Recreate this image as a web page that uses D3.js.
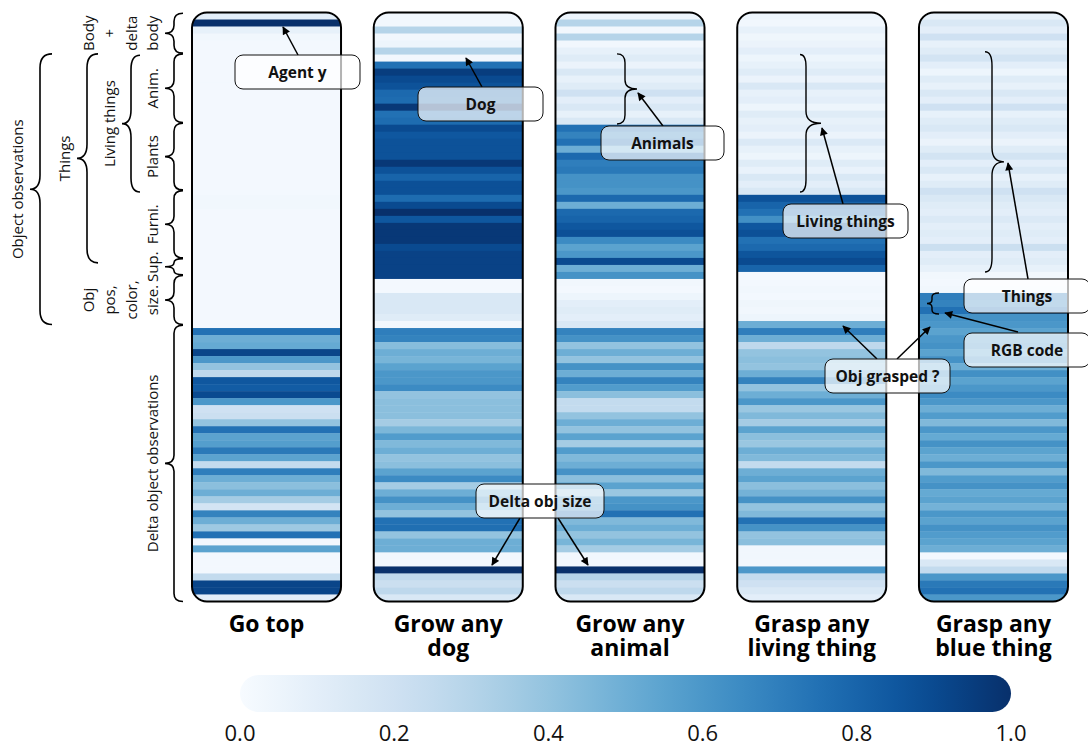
<!DOCTYPE html>
<html>
<head>
<meta charset="utf-8">
<script src="https://cdn.jsdelivr.net/npm/d3@7"></script>
<style>
body { margin: 0; background: #fff; }
svg { font-family: "Open Sans", "Noto Sans", sans-serif; }
</style>
</head>
<body>
<div id="chart"></div>
<script>
// one value per observation dimension (84 rows), per task
var goTop = [0.1, 1.0, 0.08, 0.03, 0.02, 0.02, 0.02, 0.02, 0.02, 0.02, 0.02, 0.02, 0.02, 0.02, 0.02, 0.02,
  0.02, 0.02, 0.02, 0.02, 0.02, 0.02, 0.02, 0.02, 0.02, 0.02, 0.03, 0.03, 0.02, 0.02, 0.02, 0.02,
  0.02, 0.02, 0.02, 0.02, 0.02, 0.02, 0.02, 0.02, 0.02, 0.02, 0.02, 0.02, 0.02,
  0.75, 0.5, 0.52, 0.92, 0.6, 0.4, 0.27, 0.85, 0.83, 0.9, 0.6, 0.2, 0.22, 0.4, 0.75, 0.55, 0.57, 0.72,
  0.55, 0.25, 0.7, 0.5, 0.42, 0.5, 0.35, 0.18, 0.68, 0.5, 0.37, 0.75, 0.03, 0.55, 0.02, 0.02, 0.02,
  0.25, 0.92, 0.92, 0.1];
var growDog = [0.03, 0.03, 0.3, 0.03, 0.05, 0.3, 0.03,
  0.75, 0.95, 0.9, 0.87, 0.78, 0.77, 0.97, 0.75, 0.77, 0.9, 0.85, 0.87, 0.87, 0.87, 0.97, 0.87, 0.8,
  0.88, 0.88, 0.77, 0.9, 1.0, 0.85, 0.97, 0.97, 0.97, 0.9, 0.93, 0.93, 0.93, 0.93,
  0.02, 0.02, 0.15, 0.15, 0.15, 0.12, 0.03,
  0.7, 0.68, 0.43, 0.5, 0.47, 0.55, 0.6, 0.6, 0.65, 0.4, 0.42, 0.42, 0.42, 0.35, 0.46, 0.58, 0.45, 0.5,
  0.4, 0.42, 0.55, 0.65, 0.35, 0.5, 0.62, 0.5, 0.4, 0.75, 0.76, 0.4, 0.5, 0.5, 0.03, 0.03, 1.0,
  0.27, 0.22, 0.27, 0.15];
var growAnimal = [0.05, 0.3, 0.03, 0.3, 0.03, 0.08, 0.12, 0.06, 0.15, 0.08, 0.12, 0.2, 0.1, 0.15, 0.08, 0.15,
  0.75, 0.68, 0.75, 0.5, 0.78, 0.7, 0.72, 0.62, 0.62, 0.6, 0.78, 0.5, 0.78, 0.8, 0.85, 0.88, 0.65, 0.55,
  0.6, 0.9, 0.5, 0.62,
  0.03, 0.02, 0.05, 0.1, 0.12, 0.1, 0.15,
  0.68, 0.62, 0.4, 0.5, 0.4, 0.62, 0.5, 0.68, 0.58, 0.42, 0.25, 0.25, 0.4, 0.5, 0.4, 0.55, 0.35, 0.58,
  0.45, 0.5, 0.62, 0.42, 0.55, 0.38, 0.6, 0.62, 0.75, 0.45, 0.5, 0.4, 0.47, 0.35, 0.03, 0.03, 1.0,
  0.3, 0.22, 0.27, 0.15];
var graspLiving = [0.05, 0.03, 0.08, 0.04, 0.06, 0.1, 0.05, 0.08, 0.12, 0.06, 0.15, 0.08, 0.1, 0.05, 0.12,
  0.08, 0.1, 0.06, 0.14, 0.08, 0.05, 0.12, 0.07, 0.15, 0.1, 0.15,
  0.87, 0.8, 0.75, 0.63, 0.85, 0.88, 0.75, 0.78, 0.86, 0.9, 0.8,
  0.02, 0.02, 0.03, 0.02, 0.04, 0.03, 0.05,
  0.5, 0.7, 0.5, 0.27, 0.4, 0.42, 0.4, 0.5, 0.68, 0.4, 0.5, 0.6, 0.38, 0.45, 0.35, 0.55, 0.42, 0.38,
  0.5, 0.45, 0.25, 0.5, 0.55, 0.42, 0.48, 0.62, 0.4, 0.45, 0.75, 0.62, 0.4, 0.42, 0.03, 0.03, 0.03,
  0.6, 0.25, 0.2, 0.15, 0.1];
var graspBlue = [0.08, 0.15, 0.1, 0.2, 0.08, 0.12, 0.18, 0.1, 0.05, 0.12, 0.08, 0.15, 0.1, 0.2, 0.08, 0.12,
  0.15, 0.1, 0.06, 0.12, 0.18, 0.1, 0.15, 0.08, 0.12, 0.2, 0.15, 0.12, 0.1, 0.14, 0.1, 0.12, 0.1, 0.22,
  0.1, 0.12, 0.08,
  0.03, 0.02, 0.03,
  0.7, 0.68, 0.75, 0.62, 0.6, 0.55, 0.6, 0.62, 0.55, 0.62, 0.5, 0.63, 0.55, 0.6, 0.65, 0.6, 0.5, 0.58,
  0.45, 0.6, 0.52, 0.62, 0.55, 0.5, 0.6, 0.45, 0.58, 0.62, 0.52, 0.55, 0.48, 0.6, 0.55, 0.62, 0.58,
  0.55, 0.5, 0.02, 0.15, 0.25, 0.6, 0.72, 0.75, 0.6];

var taskValues = [goTop, growDog, growAnimal, graspLiving, graspBlue];
var taskTitles = [["Go top"], ["Grow any", "dog"], ["Grow any", "animal"],
  ["Grasp any", "living thing"], ["Grasp any", "blue thing"]];
var cbTicks = [0, 0.2, 0.4, 0.6, 0.8, 1.0];

// row groups for the left braces (row index from / to, nesting level)
var rowGroups = [
  {lines: ["Body", "+", "delta", "body"], from: 0.1, to: 5.8, level: 0},
  {lines: ["Anim."], from: 5.9, to: 15.7, level: 0},
  {lines: ["Plants"], from: 15.8, to: 25.3, level: 0},
  {lines: ["Furni."], from: 25.4, to: 35.0, level: 0},
  {lines: ["Sup."], from: 35.1, to: 37.4, level: 0},
  {lines: ["Obj", "pos,", "color,", "size."], from: 37.5, to: 44.5, level: 0},
  {lines: ["Delta object observations"], from: 44.6, to: 84, level: 0},
  {lines: ["Living things"], from: 6.1, to: 25.6, level: 1},
  {lines: ["Things"], from: 5.9, to: 35.7, level: 2},
  {lines: ["Object observations"], from: 5.9, to: 44.5, level: 3}
];

var nRows = goTop.length;
var W = 1088, H = 747;

var svg = d3.select("#chart").append("svg")
  .attr("width", W).attr("height", H);

var x = d3.scaleBand().domain(d3.range(taskValues.length))
  .range([192, 1068]).paddingInner(0.18);
var y = d3.scaleBand().domain(d3.range(nRows)).range([12.5, 601.5]);
var yr = d3.scaleLinear().domain([0, nRows]).range([12.5, 601.5]);
var color = d3.scaleSequential(d3.interpolateBlues).domain([0, 1]);

var defs = svg.append("defs");
defs.append("marker")
  .attr("id", "head")
  .attr("viewBox", "0 0 10 10")
  .attr("refX", 9).attr("refY", 5)
  .attr("markerWidth", 10).attr("markerHeight", 8)
  .attr("markerUnits", "userSpaceOnUse")
  .attr("orient", "auto")
  .append("path").attr("d", "M0,0 L10,5 L0,10 z").attr("fill", "#000");

//Heatmap columns
var boxH = 589;
taskValues.forEach(function(vals, j) {
  defs.append("clipPath").attr("id", "clip" + j)
    .append("rect")
    .attr("x", 0).attr("y", 12.5)
    .attr("width", x.bandwidth()).attr("height", boxH)
    .attr("rx", 15);

  var g = svg.append("g").attr("transform", "translate(" + x(j) + ",0)");
  g.append("g").attr("clip-path", "url(#clip" + j + ")")
    .selectAll("rect")
    .data(vals)
    .enter()
    .append("rect")
    .attr("x", 0)
    .attr("y", function(d, i) { return y(i); })
    .attr("width", x.bandwidth())
    .attr("height", y.bandwidth() + 0.4)
    .attr("fill", function(d) { return color(d); });
  g.append("rect")
    .attr("x", 0).attr("y", 12.5)
    .attr("width", x.bandwidth()).attr("height", boxH)
    .attr("rx", 15)
    .attr("fill", "none").attr("stroke", "#000").attr("stroke-width", 2);

  var t = svg.append("text")
    .attr("text-anchor", "middle")
    .attr("font-size", 23).attr("font-weight", "bold").attr("fill", "#000");
  taskTitles[j].forEach(function(line, k) {
    t.append("tspan").attr("x", x(j) + x.bandwidth() / 2)
      .attr("y", 632 + k * 24).text(line);
  });
});

//Curly brace path: tip at xTip, spine at xBack, hooks end at xEnd
function brace(xTip, xBack, xEnd, y0, y1, r) {
  var ym = (y0 + y1) / 2;
  r = Math.min(r, (y1 - y0) / 4);
  return "M" + xEnd + "," + y0 +
    " Q" + xBack + "," + y0 + " " + xBack + "," + (y0 + r) +
    " L" + xBack + "," + (ym - r) +
    " Q" + xBack + "," + ym + " " + xTip + "," + ym +
    " Q" + xBack + "," + ym + " " + xBack + "," + (ym + r) +
    " L" + xBack + "," + (y1 - r) +
    " Q" + xBack + "," + y1 + " " + xEnd + "," + y1;
}

var levelX = [[165, 174, 183], [122, 131, 140], [77, 87, 98], [30, 40, 52]];
var leftG = svg.append("g");
rowGroups.forEach(function(gr) {
  var lx = levelX[gr.level];
  var y0 = yr(gr.from), y1 = yr(gr.to), ym = (y0 + y1) / 2;
  leftG.append("path")
    .attr("d", brace(lx[0], lx[1], lx[2], y0, y1, gr.level == 0 ? 8 : 14))
    .attr("fill", "none").attr("stroke", "#000").attr("stroke-width", 1.6);
  var n = gr.lines.length;
  gr.lines.forEach(function(line, k) {
    var cx = lx[0] - 13 - 21.5 * (n - 1 - k);
    leftG.append("text")
      .attr("transform", "translate(" + cx + "," + ym + ") rotate(-90)")
      .attr("text-anchor", "middle")
      .attr("dominant-baseline", "central")
      .attr("font-size", 15).attr("fill", "#111")
      .text(line);
  });
});

//Braces inside the columns
var braceG = svg.append("g").attr("fill", "none").attr("stroke", "#000").attr("stroke-width", 1.4);
braceG.append("path").attr("d", brace(637, 625, 617, yr(5.9), yr(15.9), 9));
braceG.append("path").attr("d", brace(821, 806, 800, yr(6.0), yr(25.6), 12));
braceG.append("path").attr("d", brace(1004, 992, 985, yr(5.6), yr(37.0), 14));
braceG.append("path").attr("d", brace(927, 932, 939, yr(40), yr(43), 4));

//Annotation arrows
var arrows = [
  [298, 55, 283, 27], [482, 87, 466, 58], [663, 126, 638, 93], [843, 204, 822, 128],
  [1028, 279, 1008, 163], [1018, 332, 945, 313], [877, 359, 843, 326], [897, 359, 930, 327],
  [520, 518, 492, 565], [558, 518, 588, 565]
];
svg.append("g").selectAll("line")
  .data(arrows)
  .enter()
  .append("line")
  .attr("x1", function(d) { return d[0]; })
  .attr("y1", function(d) { return d[1]; })
  .attr("x2", function(d) { return d[2]; })
  .attr("y2", function(d) { return d[3]; })
  .attr("stroke", "#000").attr("stroke-width", 1.5)
  .attr("marker-end", "url(#head)");

//Annotation boxes
function note(text, x0, y0, w) {
  var g = svg.append("g");
  g.append("rect")
    .attr("x", x0).attr("y", y0).attr("width", w).attr("height", 34)
    .attr("rx", 8)
    .attr("fill", "#fff").attr("fill-opacity", 0.7)
    .attr("stroke", "#111").attr("stroke-width", 1);
  g.append("text")
    .attr("x", x0 + w / 2).attr("y", y0 + 17)
    .attr("text-anchor", "middle").attr("dominant-baseline", "central")
    .attr("font-size", 15.5).attr("font-weight", "bold").attr("fill", "#111")
    .text(text);
}
note("Agent y", 235, 55, 125);
note("Dog", 418, 87, 125);
note("Animals", 601, 126, 123);
note("Living things", 783, 204, 125);
note("Things", 964, 279, 126);
note("RGB code", 964, 333, 126);
note("Obj grasped ?", 825, 359, 125);
note("Delta obj size", 476, 484, 128);

//Colorbar
var cbX = d3.scaleLinear().domain([0, 1]).range([240, 1011]);
var grad = defs.append("linearGradient").attr("id", "cbgrad");
d3.range(0, 1.0001, 0.05).forEach(function(v) {
  grad.append("stop").attr("offset", (v * 100) + "%").attr("stop-color", color(v));
});
svg.append("rect")
  .attr("x", cbX(0)).attr("y", 675)
  .attr("width", cbX(1) - cbX(0)).attr("height", 37)
  .attr("rx", 18.5)
  .attr("fill", "url(#cbgrad)");
svg.append("g").selectAll("text")
  .data(cbTicks)
  .enter()
  .append("text")
  .attr("x", function(d) { return cbX(d); })
  .attr("y", 741)
  .attr("text-anchor", "middle")
  .attr("font-size", 22).attr("fill", "#111")
  .text(function(d) { return d3.format(".1f")(d); });
</script>
</body>
</html>
